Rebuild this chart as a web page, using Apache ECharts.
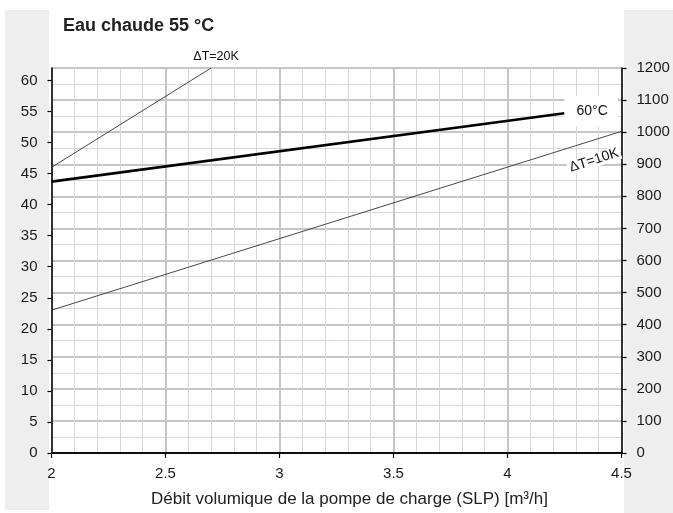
<!DOCTYPE html>
<html>
<head>
<meta charset="utf-8">
<script src="https://cdn.jsdelivr.net/npm/echarts@6/dist/echarts.min.js"></script>
<style>
  html, body { margin: 0; padding: 0; background: #fff; }
  #chart { width: 673px; height: 513px; }
</style>
</head>
<body>
<div id="chart"></div>
<script>
// axis ticks
const xTicks = [2, 2.5, 3, 3.5, 4, 4.5]
const leftTicks = [0, 5, 10, 15, 20, 25, 30, 35, 40, 45, 50, 55, 60]
const rightTicks = [0, 100, 200, 300, 400, 500, 600, 700, 800, 900, 1000, 1100, 1200]
const leftMax = 62

// curves (flow m3/h -> left axis value)
const dT20Flow = [2.0, 2.7]
const dT20Value = [46.0, 62.0]
const t60Flow = [2.0, 4.25]
const t60Value = [43.7, 54.7]
const dT10Flow = [2.0, 4.5]
const dT10Value = [23.0, 51.8]

const FONT = '"Liberation Sans", Arial, sans-serif'

function withEndLabel(xs, ys, label) {
  return xs.map((x, i) => {
    if (i === xs.length - 1) return { value: [x, ys[i]], label: Object.assign({ show: true }, label) }
    return [x, ys[i]]
  })
}

const chart = echarts.init(document.getElementById('chart'))

const axisBlack = { show: true, lineStyle: { color: '#000', width: 1.5 } }

const option = {
  animation: false,
  textStyle: { fontFamily: FONT },
  title: {
    text: 'Eau chaude 55 °C',
    left: 58,
    top: 12,
    textStyle: { fontFamily: FONT, fontSize: 18, fontWeight: 'bold', color: '#222' }
  },
  graphic: [
    { type: 'rect', z: -10, shape: { x: 5, y: 10, width: 44, height: 500 }, style: { fill: '#eeeeee' } },
    { type: 'rect', z: -10, shape: { x: 624, y: 10, width: 49, height: 503 }, style: { fill: '#eeeeee' } }
  ],
  grid: {
    left: 51.5,
    right: 51.5,
    top: 68,
    bottom: 58.5,
    show: true,
    backgroundColor: '#fff',
    borderWidth: 0
  },
  xAxis: [
    {
      type: 'value',
      min: xTicks[0],
      max: xTicks[xTicks.length - 1],
      interval: 0.5,
      axisLine: axisBlack,
      axisTick: { show: true, length: 5, lineStyle: { color: '#000', width: 1.2 } },
      axisLabel: { color: '#1a1a1a', fontSize: 15, margin: 13, fontFamily: FONT },
      splitLine: { show: true, lineStyle: { color: '#c6c6c6', width: 2 } },
      minorTick: { show: false, splitNumber: 5 },
      minorSplitLine: { show: true, lineStyle: { color: '#d8d8d8', width: 1 } },
      name: 'Débit volumique de la pompe de charge (SLP) [m³/h]',
      nameLocation: 'middle',
      nameGap: 38,
      nameTextStyle: { color: '#222', fontSize: 17, fontFamily: FONT, padding: [0, 0, 0, 26] }
    },
    {
      type: 'value',
      position: 'top',
      min: xTicks[0],
      max: xTicks[xTicks.length - 1],
      axisLine: axisBlack,
      axisTick: { show: false },
      axisLabel: { show: false },
      splitLine: { show: false }
    }
  ],
  yAxis: [
    {
      type: 'value',
      position: 'left',
      min: 0,
      max: leftMax,
      axisLine: axisBlack,
      axisTick: { show: true, length: 4, customValues: leftTicks, lineStyle: { color: '#000', width: 1.2 } },
      axisLabel: { color: '#1a1a1a', fontSize: 15, margin: 14, customValues: leftTicks, fontFamily: FONT },
      splitLine: { show: false }
    },
    {
      type: 'value',
      position: 'right',
      min: 0,
      max: rightTicks[rightTicks.length - 1],
      interval: 100,
      axisLine: axisBlack,
      axisTick: { show: true, length: 5, lineStyle: { color: '#000', width: 1.2 } },
      axisLabel: { color: '#1a1a1a', fontSize: 15, margin: 15, fontFamily: FONT, formatter: v => String(v) },
      splitLine: { show: true, lineStyle: { color: '#c6c6c6', width: 2 } },
      minorTick: { show: false, splitNumber: 2 },
      minorSplitLine: { show: true, lineStyle: { color: '#d8d8d8', width: 1 } }
    }
  ],
  series: [
    {
      name: 'ΔT=20K',
      type: 'line',
      clip: false,
      symbol: 'circle',
      symbolSize: 0,
      showSymbol: true,
      itemStyle: { color: '#333' },
      lineStyle: { color: '#333', width: 0.9 },
      emphasis: { disabled: true },
      data: withEndLabel(dT20Flow, dT20Value, {
        formatter: 'ΔT=20K', position: 'inside', offset: [5, -11],
        fontSize: 12.5, color: '#111', fontFamily: FONT
      })
    },
    {
      name: '60°C',
      type: 'line',
      clip: false,
      symbol: 'circle',
      symbolSize: 0,
      showSymbol: true,
      itemStyle: { color: '#000' },
      lineStyle: { color: '#000', width: 2.6 },
      emphasis: { disabled: true },
      data: withEndLabel(t60Flow, t60Value, {
        formatter: '60°C', position: 'right', distance: 0, offset: [0, -2],
        backgroundColor: '#fff', padding: [8, 10, 8, 12],
        fontSize: 14, color: '#111', fontFamily: FONT
      })
    },
    {
      name: 'ΔT=10K',
      type: 'line',
      clip: false,
      symbol: 'circle',
      symbolSize: 0,
      showSymbol: true,
      itemStyle: { color: '#333' },
      lineStyle: { color: '#333', width: 0.9 },
      emphasis: { disabled: true },
      data: withEndLabel(dT10Flow, dT10Value, {
        formatter: 'ΔT=10K', position: 'inside', rotate: 18, offset: [-35, 19],
        backgroundColor: '#fff', padding: [0, 2],
        fontSize: 14, color: '#111', fontFamily: FONT
      })
    }
  ]
}

chart.setOption(option)
window.addEventListener('resize', () => chart.resize())
</script>
</body>
</html>
